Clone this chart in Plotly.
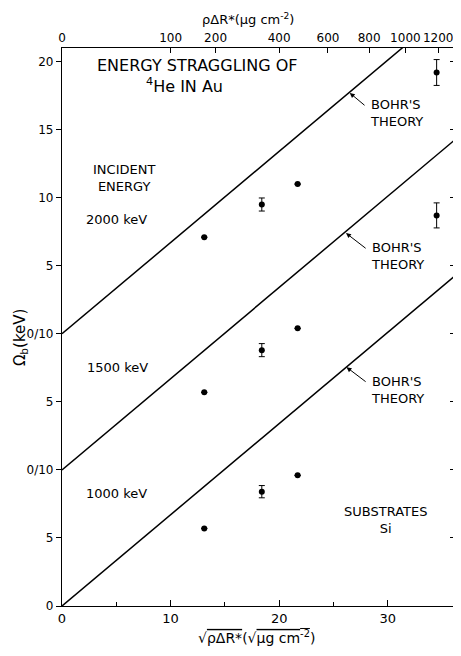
import numpy as np
import plotly.graph_objects as go

# ---- data ----
x_sqrt = [13.1, 18.4, 21.7, 34.5]              # sqrt(rho dR*) (sqrt(ug cm^-2))
omega_2000 = [7.1, 9.5, 11.0, 19.2]            # keV
err_2000 = [np.nan, 0.48, np.nan, 0.95]
omega_1500 = [5.7, 8.8, 10.4, 18.7]
err_1500 = [np.nan, 0.48, np.nan, 0.92]
x_sqrt_1000 = [13.1, 18.4, 21.7]
omega_1000 = [5.7, 8.4, 9.6]
err_1000 = [np.nan, 0.45, np.nan]

bohr_x = [0, 36.1]
bohr_y = [0, 24.2]                              # Bohr's theory, same for every energy

panel_offset = {"2000": 20, "1500": 10, "1000": 0}

y_tickvals = [0, 5, 10, 15, 20, 25, 30, 35, 40]
y_ticktext = ["0", "5", "0/10", "5", "0/10", "5", "10", "15", "20"]
top_tick_labels = [0, 100, 200, 400, 600, 800, 1000, 1200]   # rho dR* (ug cm^-2)

FONT = "DejaVu Sans"
fig = go.Figure()

series = [
    ("2000", x_sqrt, omega_2000, err_2000),
    ("1500", x_sqrt, omega_1500, err_1500),
    ("1000", x_sqrt_1000, omega_1000, err_1000),
]
for name, xs, ys, es in series:
    off = panel_offset[name]
    fig.add_trace(go.Scatter(
        x=bohr_x, y=[v + off for v in bohr_y], mode="lines",
        line=dict(color="black", width=1.5), showlegend=False, hoverinfo="skip"))
    fig.add_trace(go.Scatter(
        x=xs, y=[v + off for v in ys], mode="markers",
        marker=dict(color="black", size=6),
        error_y=dict(type="data", array=es, color="black", thickness=1, width=3),
        showlegend=False, name=name + " keV"))

# dummy traces to activate the top and right axes
fig.add_trace(go.Scatter(x=[None], y=[None], xaxis="x2", yaxis="y", showlegend=False))
fig.add_trace(go.Scatter(x=[None], y=[None], xaxis="x", yaxis="y2", showlegend=False))

xr = [0, 36.1]
yr = [0, 41.0]
fig.update_layout(
    width=453, height=640,
    margin=dict(l=54, r=7, t=40, b=42),
    paper_bgcolor="white", plot_bgcolor="white",
    font=dict(family=FONT, color="black", size=12),
    xaxis=dict(range=xr, showgrid=False, zeroline=False, showline=True, linecolor="black",
               linewidth=1.2, ticks="inside", ticklen=6, tickcolor="black",
               tickvals=[0, 10, 20, 30], ticktext=["0", "10", "20", "30"],
               minor=dict(tickvals=[5, 15, 25], ticks="inside", ticklen=4, tickcolor="black"),
               tickfont=dict(size=13)),
    xaxis2=dict(range=xr, overlaying="x", side="top", showgrid=False, zeroline=False,
                showline=True, linecolor="black", linewidth=1.2, ticks="inside", ticklen=5,
                tickcolor="black", tickvals=list(np.sqrt(top_tick_labels)),
                ticktext=[str(t) for t in top_tick_labels], tickfont=dict(size=12),
                ticklabeloverflow="allow"),
    yaxis=dict(range=yr, showgrid=False, zeroline=False, showline=True, linecolor="black",
               linewidth=1.2, ticks="outside", ticklen=5, tickcolor="black",
               tickvals=y_tickvals, ticktext=y_ticktext, tickfont=dict(size=12)),
    yaxis2=dict(range=yr, overlaying="y", side="right", showgrid=False, zeroline=False,
                showline=True, linecolor="black", linewidth=1.2, ticks="inside", ticklen=4,
                tickcolor="black", tickvals=y_tickvals, showticklabels=False),
)

def txt(x, y, s, size=13, xanchor="left", align="left", xref="x", yref="y", angle=0,
        yanchor="middle"):
    fig.add_annotation(x=x, y=y, xref=xref, yref=yref, text=s, showarrow=False,
                       xanchor=xanchor, yanchor=yanchor, align=align, textangle=angle,
                       font=dict(family=FONT, size=size, color="black"))

txt(12.5, 38.95, "ENERGY STRAGGLING OF<br><sup>4</sup>He IN Au     ", size=16,
    xanchor="center", align="center")
txt(5.7, 31.45, "INCIDENT<br>ENERGY", size=13, xanchor="center", align="center")
txt(2.0, 28.4, "2000 keV")
txt(2.1, 17.5, "1500 keV")
txt(2.0, 8.3, "1000 keV")
txt(29.8, 6.3, "SUBSTRATES<br>Si", size=13, xanchor="center", align="center")

bohr_labels = [(28.2, 36.2, 26.5, 37.7), (28.3, 25.7, 26.15, 27.4), (28.3, 15.9, 26.2, 17.55)]
for tx, ty, hx, hy in bohr_labels:
    txt(tx, ty, "BOHR'S<br>THEORY", size=13)
    fig.add_annotation(x=hx, y=hy, ax=tx - 0.2, ay=ty + 0.5, xref="x", yref="y",
                       axref="x", ayref="y", text="", showarrow=True,
                       arrowhead=2, arrowsize=1, arrowwidth=1, arrowcolor="black")

txt(0.474, 1.052, "ρΔR*(μg cm<sup>-2</sup>)", size=13, xanchor="center", xref="paper",
    yref="paper")
txt(0.497, -0.056,
    "√<span style='text-decoration:overline'>ρΔR*</span>(√<span style='text-decoration:overline'>μg cm<sup>-2</sup></span>)",
    size=14, xanchor="center", xref="paper", yref="paper")
txt(-0.107, 0.482, "Ω<sub>b</sub>(keV)", size=15, xanchor="center", align="center",
    xref="paper", yref="paper", angle=-90)

fig.write_html("out.html")
